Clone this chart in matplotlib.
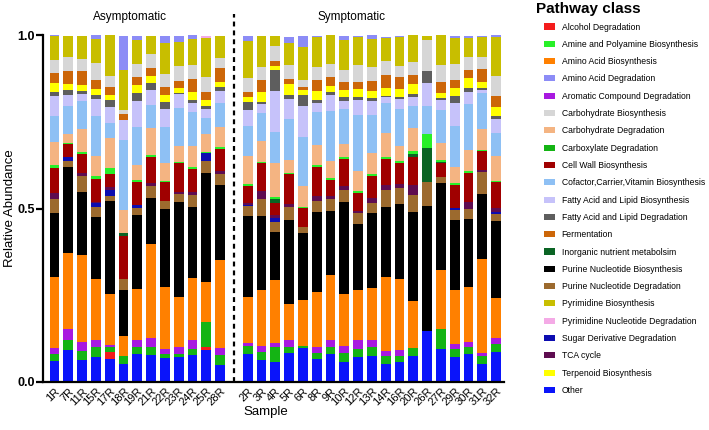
import numpy as np
import matplotlib
matplotlib.use("Agg")
import matplotlib.pyplot as plt

plt.rcParams['font.family'] = ['Liberation Sans', 'DejaVu Sans']

asym_samples = ["1R", "7R", "11R", "15R", "17R", "18R", "19R", "21R", "22R", "23R", "24R", "25R", "28R"]
sym_samples = ["2R", "3R", "4R", "5R", "6R", "8R", "9R", "10R", "12R", "13R", "14R", "16R", "20R",
               "26R", "27R", "29R", "30R", "31R", "32R"]
group_labels = ["Asymptomatic", "Symptomatic"]

# values per pathway class, asymptomatic samples then symptomatic samples
other = [0.060, 0.093, 0.062, 0.071, 0.067, 0.051, 0.080, 0.077, 0.070, 0.072, 0.077, 0.093, 0.048,
         0.082, 0.062, 0.058, 0.084, 0.099, 0.066, 0.082, 0.058, 0.073, 0.075, 0.052, 0.058, 0.075,
         0.148, 0.094, 0.071, 0.080, 0.052, 0.087]
alcohol_deg = [0, 0, 0, 0, 0.019, 0, 0, 0, 0, 0, 0, 0.008, 0,
               0, 0, 0, 0, 0, 0, 0, 0, 0, 0, 0, 0, 0, 0, 0, 0, 0, 0, 0]
carboxylate_deg = [0.020, 0.029, 0.027, 0.031, 0.014, 0.023, 0.021, 0.024, 0.012, 0.008, 0.019, 0.072, 0.029,
                   0.022, 0.024, 0.043, 0.017, 0.004, 0.019, 0.018, 0.026, 0.021, 0.027, 0.023, 0.017, 0.022,
                   0, 0.060, 0.023, 0.022, 0.023, 0.022]
aromatic_deg = [0.019, 0.032, 0.026, 0.019, 0.008, 0, 0.021, 0.027, 0.012, 0.021, 0.026, 0, 0.021,
                0.007, 0.019, 0.010, 0.019, 0, 0.015, 0.021, 0.020, 0.027, 0.019, 0.015, 0.017, 0,
                0, 0, 0.015, 0.014, 0.008, 0.017]
aa_bio = [0.204, 0.219, 0.250, 0.175, 0.146, 0.060, 0.147, 0.269, 0.179, 0.144, 0.179, 0.115, 0.254,
          0.135, 0.160, 0.183, 0.106, 0.133, 0.158, 0.187, 0.149, 0.144, 0.149, 0.213, 0.205, 0.137,
          0, 0.169, 0.156, 0.157, 0.271, 0.115]
purine_bio = [0.183, 0.248, 0.183, 0.180, 0.269, 0.132, 0.211, 0.134, 0.227, 0.274, 0.203, 0.314, 0.215,
              0.231, 0.214, 0.139, 0.240, 0.192, 0.231, 0.185, 0.267, 0.190, 0.216, 0.200, 0.216, 0.257,
              0.359, 0.250, 0.202, 0.196, 0.188, 0.224]
purine_deg = [0.041, 0.015, 0.046, 0.027, 0.012, 0.032, 0.022, 0.034, 0.022, 0.022, 0.034, 0.036, 0.032,
              0.029, 0.048, 0.029, 0.038, 0.019, 0.034, 0.034, 0.032, 0.031, 0.031, 0.050, 0.045, 0.048,
              0.070, 0.019, 0.029, 0.031, 0.062, 0.019]
sugar_deg = [0, 0.013, 0, 0.012, 0.019, 0, 0.007, 0, 0, 0, 0, 0.021, 0,
             0.005, 0, 0.010, 0, 0, 0, 0, 0, 0, 0, 0, 0, 0, 0, 0, 0.005, 0, 0, 0.007]
tca_cycle = [0.019, 0, 0.008, 0.005, 0.008, 0, 0, 0.009, 0, 0.007, 0.010, 0, 0.010,
             0.005, 0.024, 0.010, 0.010, 0, 0.014, 0.008, 0.013, 0.008, 0.012, 0.014, 0.013, 0.029,
             0, 0, 0, 0.020, 0.006, 0.010]
cell_wall = [0.071, 0.036, 0.056, 0.065, 0.036, 0.122, 0.067, 0.075, 0.055, 0.082, 0.067, 0, 0.062,
             0.048, 0.079, 0.034, 0.084, 0.053, 0.084, 0.048, 0.077, 0.052, 0.065, 0.077, 0.061, 0.080,
             0, 0.038, 0.067, 0.083, 0.055, 0.074]
inorganic = [0, 0, 0, 0, 0, 0.008, 0, 0, 0, 0, 0, 0, 0,
             0, 0, 0.010, 0, 0, 0, 0, 0, 0, 0, 0, 0, 0.009, 0.096, 0.005, 0, 0, 0, 0]
amine_bio = [0.007, 0.005, 0.005, 0.008, 0.018, 0, 0.005, 0.005, 0.003, 0.005, 0.005, 0.005, 0.005,
             0.006, 0.005, 0.008, 0.005, 0.004, 0.005, 0.005, 0.005, 0.003, 0.006, 0.005, 0.005, 0.008,
             0.041, 0.006, 0.006, 0.005, 0.005, 0.004]
carb_deg = [0.068, 0.026, 0.067, 0.059, 0.086, 0.067, 0.043, 0.077, 0.050, 0.046, 0.060, 0.051, 0.060,
            0.081, 0.060, 0.096, 0.037, 0.061, 0.057, 0.048, 0.040, 0.060, 0.061, 0.068, 0.044, 0.066,
            0, 0.047, 0.045, 0.061, 0.060, 0.073]
cofactor_bio = [0.074, 0.080, 0.080, 0.115, 0.045, 0.203, 0.110, 0.067, 0.106, 0.108, 0.099, 0.046, 0.069,
                0.086, 0.079, 0.090, 0.118, 0.142, 0.094, 0.144, 0.101, 0.160, 0.109, 0.086, 0.106, 0.065,
                0.081, 0.096, 0.119, 0.133, 0.103, 0.067]
fa_bio = [0.058, 0.032, 0.021, 0.048, 0.046, 0.056, 0.077, 0.043, 0.051, 0.041, 0.026, 0.025, 0.035,
          0.048, 0.027, 0.118, 0.058, 0.088, 0.027, 0.048, 0.022, 0.043, 0.040, 0.017, 0.029, 0.024,
          0.067, 0.029, 0.067, 0.034, 0.008, 0.038]
fa_deg = [0.013, 0.013, 0.007, 0.011, 0.020, 0, 0.023, 0.021, 0.021, 0.004, 0.008, 0.008, 0.009,
          0.021, 0.007, 0.062, 0.012, 0.031, 0.009, 0.008, 0.012, 0.010, 0.008, 0.005, 0.005, 0.010,
          0.035, 0.005, 0.020, 0.012, 0.005, 0.010]
terpenoid_bio = [0.024, 0.019, 0.017, 0.018, 0.013, 0, 0.022, 0.020, 0.019, 0.014, 0.024, 0.020, 0.015,
                 0.015, 0.029, 0.012, 0.031, 0.015, 0.027, 0.018, 0.019, 0.021, 0.022, 0.022, 0.024, 0.029,
                 0, 0.016, 0.021, 0.028, 0.019, 0.025]
fermentation = [0.029, 0.035, 0.041, 0.025, 0.024, 0.017, 0.024, 0.023, 0.022, 0.019, 0.036, 0.021, 0.040,
                0.016, 0.032, 0.013, 0.014, 0.008, 0.029, 0.024, 0.024, 0.022, 0.026, 0.037, 0.034, 0.026,
                0, 0.030, 0.024, 0.024, 0.038, 0.033]
carb_bio = [0.037, 0.042, 0.036, 0.050, 0.032, 0.012, 0.036, 0.039, 0.038, 0.043, 0.041, 0.045, 0.031,
            0.038, 0.040, 0.043, 0.040, 0.021, 0.038, 0.037, 0.034, 0.048, 0.043, 0.041, 0.031, 0.037,
            0.088, 0.050, 0.046, 0.038, 0.034, 0.056]
pyrimidine_bio = [0.069, 0.059, 0.065, 0.070, 0.118, 0.117, 0.069, 0.053, 0.091, 0.070, 0.074, 0.111, 0.063,
                  0.109, 0.087, 0.030, 0.065, 0.094, 0.086, 0.084, 0.086, 0.082, 0.079, 0.065, 0.083, 0.078,
                  0.012, 0.085, 0.074, 0.053, 0.056, 0.113]
aa_deg = [0.005, 0, 0, 0.010, 0, 0.097, 0.011, 0, 0.020, 0.017, 0.011, 0, 0,
          0.014, 0, 0, 0.017, 0.034, 0.005, 0, 0.012, 0.003, 0.011, 0.005, 0.005, 0,
          0, 0, 0.008, 0.006, 0.005, 0.005]
pyr_nuc_deg = [0, 0, 0, 0, 0, 0, 0, 0, 0, 0, 0, 0.005, 0,
               0, 0, 0, 0, 0, 0, 0, 0, 0, 0, 0, 0, 0, 0, 0, 0, 0, 0, 0]

# stacking order, bottom to top
stack = [
    ("Other", other, "#0A14FA"),
    ("Alcohol Degradation", alcohol_deg, "#F41C1C"),
    ("Carboxylate Degradation", carboxylate_deg, "#14B414"),
    ("Aromatic Compound Degradation", aromatic_deg, "#A818E0"),
    ("Amino Acid Biosynthesis", aa_bio, "#FF8000"),
    ("Purine Nucleotide Biosynthesis", purine_bio, "#000000"),
    ("Purine Nucleotide Degradation", purine_deg, "#9C6A2E"),
    ("Sugar Derivative Degradation", sugar_deg, "#0C0CB0"),
    ("TCA cycle", tca_cycle, "#5E0C50"),
    ("Cell Wall Biosynthesis", cell_wall, "#A00000"),
    ("Inorganic nutrient metabolsim", inorganic, "#0A6424"),
    ("Amine and Polyamine Biosynthesis", amine_bio, "#28F028"),
    ("Carbohydrate Degradation", carb_deg, "#F4B482"),
    ("Cofactor,Carrier,Vitamin Biosynthesis", cofactor_bio, "#8EC0F4"),
    ("Fatty Acid and Lipid Biosynthesis", fa_bio, "#C6C2FA"),
    ("Fatty Acid and Lipid Degradation", fa_deg, "#5E5E5E"),
    ("Terpenoid Biosynthesis", terpenoid_bio, "#FFFF00"),
    ("Fermentation", fermentation, "#CC6608"),
    ("Carbohydrate Biosynthesis", carb_bio, "#D6D6D6"),
    ("Pyrimidine Biosynthesis", pyrimidine_bio, "#C8BE00"),
    ("Amino Acid Degradation", aa_deg, "#8C8CF6"),
    ("Pyrimidine Nucleotide Degradation", pyr_nuc_deg, "#F4AAE6"),
]

legend_order = [
    "Alcohol Degradation", "Amine and Polyamine Biosynthesis", "Amino Acid Biosynthesis",
    "Amino Acid Degradation", "Aromatic Compound Degradation", "Carbohydrate Biosynthesis",
    "Carbohydrate Degradation", "Carboxylate Degradation", "Cell Wall Biosynthesis",
    "Cofactor,Carrier,Vitamin Biosynthesis", "Fatty Acid and Lipid Biosynthesis",
    "Fatty Acid and Lipid Degradation", "Fermentation", "Inorganic nutrient metabolsim",
    "Purine Nucleotide Biosynthesis", "Purine Nucleotide Degradation", "Pyrimidine Biosynthesis",
    "Pyrimidine Nucleotide Degradation", "Sugar Derivative Degradation", "TCA cycle",
    "Terpenoid Biosynthesis", "Other",
]

samples = asym_samples + sym_samples
xpos = np.r_[np.arange(len(asym_samples)), np.arange(len(sym_samples)) + len(asym_samples) + 1]

W, H = 709, 430
fig = plt.figure(figsize=(W / 100, H / 100), dpi=100)
ax = fig.add_axes([43 / W, 48 / H, 460.7 / W, 347 / H])

bottom = np.zeros(len(samples))
handles = {}
for name, vals, col in stack:
    v = np.asarray(vals, dtype=float)
    bars = ax.bar(xpos, v, bottom=bottom, width=0.7, color=col, linewidth=0, label=name)
    handles[name] = bars
    bottom += v

ax.set_xlim(-0.833, 32.55)
ax.set_ylim(0, 1.0)
for s in ("top", "right"):
    ax.spines[s].set_visible(False)
ax.spines["left"].set_linewidth(1.6)
ax.spines["bottom"].set_linewidth(1.6)

ax.set_yticks([0, 0.5, 1.0])
ax.set_yticklabels(["0.0", "0.5", "1.0"], fontsize=9, fontweight="bold")
ax.tick_params(axis="y", length=5, width=1.6, pad=1)
ax.set_xticks(xpos)
ax.set_xticklabels(samples, rotation=45, ha="right", rotation_mode="anchor", fontsize=8)
ax.tick_params(axis="x", length=0, pad=3)

# divider between groups
div_x = len(asym_samples)
ax.plot([div_x, div_x], [0, 1.06], color="black", lw=1.6, ls=(0, (2.2, 1.8)), clip_on=False)
ax.text(5.5, 1.052, group_labels[0], ha="center", va="center", fontsize=8.5)
ax.text(21.5, 1.052, group_labels[1], ha="center", va="center", fontsize=8.5)

fig.text(266 / W, 1 - 412 / H, "Sample", ha="center", va="center", fontsize=9.5)
fig.text(10 / W, 1 - 208 / H, "Relative Abundance", ha="center", va="center",
         rotation=90, fontsize=9.5)

fig.text(536 / W, 1 - 9 / H, "Pathway class", ha="left", va="center", fontsize=11, fontweight="bold")
leg = fig.legend([handles[n] for n in legend_order], legend_order,
                 loc="upper left", bbox_to_anchor=(544 / W, 1 - 22.5 / H),
                 frameon=False, fontsize=6.2, labelspacing=0.965, handlelength=1.25,
                 handleheight=0.7, handletextpad=0.8, borderpad=0, borderaxespad=0)

fig.savefig("out.png", dpi=100)
